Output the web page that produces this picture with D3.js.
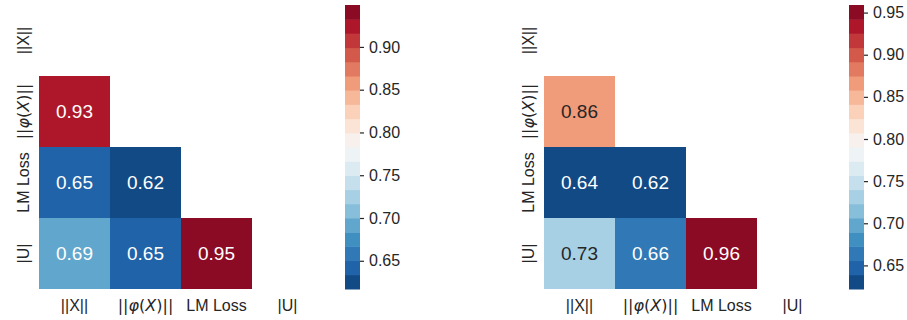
<!DOCTYPE html>
<html>
<head>
<meta charset="utf-8">
<script src="https://cdn.jsdelivr.net/npm/d3@7"></script>
<style>
  html, body { margin: 0; padding: 0; background: #fff; }
  svg { display: block; }
  text { font-family: "Liberation Sans", Arial, sans-serif; }
</style>
</head>
<body>
<svg id="chart" width="907" height="320"></svg>
<script>
// ---- data ----
const labels = ["||X||", "||φ(X)||", "LM Loss", "|U|"];
// lower-triangular correlation values (row, col), diagonal and above masked
const leftValues = [
  [null, null, null, null],
  [0.931, null, null, null],
  [0.650, 0.617, null, null],
  [0.690, 0.650, 0.949, null]
];
const rightValues = [
  [null, null, null, null],
  [0.860, null, null, null],
  [0.636, 0.622, null, null],
  [0.730, 0.660, 0.959, null]
];
const leftRange = [0.617, 0.949];
const rightRange = [0.622, 0.959];
const leftTicks = [0.65, 0.70, 0.75, 0.80, 0.85, 0.90];
const rightTicks = [0.65, 0.70, 0.75, 0.80, 0.85, 0.90, 0.95];
const nLevels = 20;

// matplotlib RdBu_r anchor colours
const rdbuR = ["#053061", "#2166ac", "#4393c3", "#92c5de", "#d1e5f0", "#f7f7f7",
               "#fddbc7", "#f4a582", "#d6604d", "#b2182b", "#67001f"];
const cmap = d3.scaleLinear()
  .domain(d3.range(11).map(i => i / 10))
  .range(rdbuR)
  .interpolate(d3.interpolateRgb);
const palette = d3.range(nLevels).map(i => cmap((i + 1) / (nLevels + 1)));

function relLum(c) {
  const rgb = d3.rgb(c);
  const f = v => { v /= 255; return v <= 0.03928 ? v / 12.92 : Math.pow((v + 0.055) / 1.055, 2.4); };
  return 0.2126 * f(rgb.r) + 0.7152 * f(rgb.g) + 0.0722 * f(rgb.b);
}

const svg = d3.select("#chart");

function labelText(sel, lab) {
  if (lab === "||φ(X)||") {
    sel.style("font-family", "'DejaVu Sans', sans-serif").style("font-size", "16px");
    sel.append("tspan").text("||");
    sel.append("tspan").style("font-style", "italic").text("φ");
    sel.append("tspan").text("(");
    sel.append("tspan").style("font-style", "italic").text("X");
    sel.append("tspan").text(")||");
  } else {
    sel.text(lab);
  }
}

function drawPanel(x0, cbX, values, range, ticks) {
  const g = svg.append("g");
  const x = d3.scaleBand().domain(d3.range(4)).range([x0, x0 + 284]);
  const y = d3.scaleBand().domain(d3.range(4)).range([5, 289]);
  const color = d3.scaleQuantize().domain(range).range(palette);

  const cells = [];
  values.forEach((row, r) => row.forEach((v, c) => { if (v !== null) cells.push({ r, c, v }); }));

  g.selectAll("rect.cell").data(cells).join("rect")
    .attr("class", "cell")
    .attr("x", d => x(d.c)).attr("y", d => y(d.r))
    .attr("width", x.bandwidth()).attr("height", y.bandwidth())
    .attr("fill", d => color(d.v));

  g.selectAll("text.annot").data(cells).join("text")
    .attr("class", "annot")
    .attr("x", d => x(d.c) + x.bandwidth() / 2)
    .attr("y", d => y(d.r) + y.bandwidth() / 2)
    .attr("text-anchor", "middle").attr("dominant-baseline", "central")
    .style("font-size", "19px")
    .attr("fill", d => relLum(color(d.v)) > 0.408 ? "#262626" : "#ffffff")
    .text(d => d3.format(".2f")(d.v));

  // x tick labels
  labels.forEach((lab, i) => {
    const t = g.append("text")
      .attr("x", x(i) + x.bandwidth() / 2).attr("y", 311)
      .attr("text-anchor", "middle").attr("fill", "#262626")
      .style("font-size", "16px");
    labelText(t, lab);
  });
  // y tick labels (rotated)
  labels.forEach((lab, i) => {
    const cy = y(i) + y.bandwidth() / 2;
    const t = g.append("text")
      .attr("transform", `translate(${x0 - 10},${cy}) rotate(-90)`)
      .attr("text-anchor", "middle").attr("fill", "#262626")
      .style("font-size", "16px");
    labelText(t, lab);
  });

  // colorbar
  const cy = d3.scaleLinear().domain(range).range([289, 5]);
  const step = (range[1] - range[0]) / nLevels;
  const levels = d3.range(nLevels).map(i => ({ lo: range[0] + i * step, hi: range[0] + (i + 1) * step, c: palette[i] }));
  g.selectAll("rect.cb").data(levels).join("rect")
    .attr("class", "cb")
    .attr("x", cbX).attr("width", 15)
    .attr("y", d => cy(d.hi)).attr("height", d => cy(d.lo) - cy(d.hi) + 0.5)
    .attr("fill", d => d.c);

  const axis = d3.axisRight(cy).tickValues(ticks).tickFormat(d3.format(".2f")).tickSize(4).tickPadding(5);
  const ag = g.append("g").attr("transform", `translate(${cbX + 15},0)`).call(axis);
  ag.select(".domain").remove();
  ag.selectAll(".tick line").attr("stroke", "#262626").attr("stroke-width", 1.2);
  ag.selectAll(".tick text").attr("fill", "#262626").style("font-size", "16px")
    .style("font-family", "'Liberation Sans', Arial, sans-serif");
}

drawPanel(39, 345, leftValues, leftRange, leftTicks);
drawPanel(544, 849, rightValues, rightRange, rightTicks);
</script>
</body>
</html>
